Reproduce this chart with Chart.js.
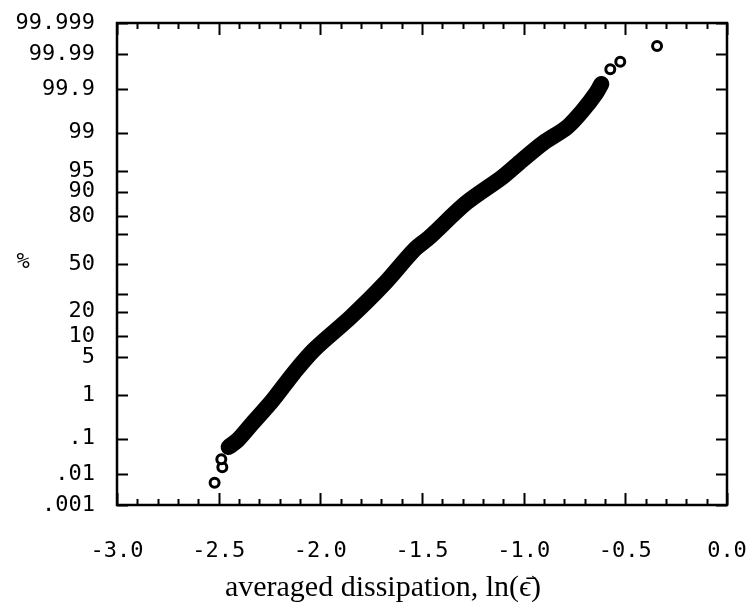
<!DOCTYPE html>
<html>
<head>
<meta charset="utf-8">
<script src="https://cdn.jsdelivr.net/npm/chart.js@4/dist/chart.umd.min.js"></script>
<style>
  html, body { margin: 0; padding: 0; background: #fff; }
  #wrap { width: 753px; height: 610px; }
</style>
</head>
<body>
<div id="wrap"><canvas id="chart" width="753" height="610"></canvas></div>
<script>
// dense band of points (read along the centre of the black band)
const bulkX   = [-2.451, -2.406, -2.333, -2.234, -2.131, -2.032, -1.850, -1.682, -1.539, -1.461, -1.283, -1.105, -1.007, -0.904, -0.786, -0.707, -0.643, -0.618];
const bulkPct = [0.060, 0.092, 0.245, 0.80, 2.68, 6.4, 17.4, 36.8, 59.8, 68.4, 86.0, 93.8, 96.7, 98.39, 99.23, 99.68, 99.877, 99.928];

// isolated open circles at both ends
const tailX   = [-2.520, -2.482, -2.487, -0.574, -0.525, -0.344];
const tailPct = [0.00542, 0.0160, 0.0273, 99.9715, 99.9829, 99.9943];

// probability axis ticks
const yTickPct    = [0.001, 0.01, 0.1, 1, 5, 10, 20, 30, 50, 70, 80, 90, 95, 99, 99.9, 99.99, 99.999];
const yTickLabels = ['.001', '.01', '.1', '1', '5', '10', '20', '', '50', '', '80', '90', '95', '99', '99.9', '99.99', '99.999'];

// inverse normal cdf (Acklam) -> probability paper
function probit(p) {
    const a = [-3.969683028665376e+01, 2.209460984245205e+02, -2.759285104469687e+02, 1.383577518672690e+02, -3.066479806614716e+01, 2.506628277459239e+00];
    const b = [-5.447609879822406e+01, 1.615858368580409e+02, -1.556989798598866e+02, 6.680131188771972e+01, -1.328068155288572e+01];
    const c = [-7.784894002430293e-03, -3.223964580411365e-01, -2.400758277161838e+00, -2.549732539343734e+00, 4.374664141464968e+00, 2.938163982698783e+00];
    const d = [7.784695709041462e-03, 3.224671290700398e-01, 2.445134137142996e+00, 3.754408661907416e+00];
    const pl = 0.02425;
    if (p < pl) {
        const q = Math.sqrt(-2 * Math.log(p));
        return (((((c[0]*q+c[1])*q+c[2])*q+c[3])*q+c[4])*q+c[5]) / ((((d[0]*q+d[1])*q+d[2])*q+d[3])*q+1);
    }
    if (p > 1 - pl) {
        const q = Math.sqrt(-2 * Math.log(1 - p));
        return -(((((c[0]*q+c[1])*q+c[2])*q+c[3])*q+c[4])*q+c[5]) / ((((d[0]*q+d[1])*q+d[2])*q+d[3])*q+1);
    }
    const q = p - 0.5, r = q * q;
    return (((((a[0]*r+a[1])*r+a[2])*r+a[3])*r+a[4])*r+a[5])*q / (((((b[0]*r+b[1])*r+b[2])*r+b[3])*r+b[4])*r+1);
}

const toPoints = (xs, ps) => xs.map((x, i) => ({ x, y: probit(ps[i] / 100) }));
const yMin = probit(yTickPct[0] / 100);
const yMax = probit(yTickPct[yTickPct.length - 1] / 100);

// frame, inward ticks and free text
const framePlugin = {
    id: 'frame',
    afterDraw(chart) {
        const ctx = chart.ctx;
        const { left, right, top, bottom } = chart.chartArea;
        const xs = chart.scales.x, ys = chart.scales.y;
        ctx.save();
        ctx.strokeStyle = '#000';
        ctx.lineWidth = 2;
        ctx.beginPath();
        for (let i = -30; i <= 0; i++) {
            const px = Math.round(xs.getPixelForValue(i / 10)) + 0.5;
            const len = (i % 5 === 0) ? 12 : 6;
            ctx.moveTo(px, bottom); ctx.lineTo(px, bottom - len);
            ctx.moveTo(px, top); ctx.lineTo(px, top + len);
        }
        yTickPct.forEach(p => {
            const py = Math.round(ys.getPixelForValue(probit(p / 100))) + 0.5;
            ctx.moveTo(left, py); ctx.lineTo(left + 11, py);
            ctx.moveTo(right, py); ctx.lineTo(right - 11, py);
        });
        ctx.stroke();
        ctx.lineWidth = 2.5;
        ctx.strokeRect(left, top, right - left, bottom - top);

        ctx.fillStyle = '#000';
        ctx.textAlign = 'center';
        ctx.textBaseline = 'middle';
        ctx.font = '22px "DejaVu Sans Mono"';
        ctx.fillText('%', 23, 262);
        ctx.textBaseline = 'alphabetic';
        ctx.font = '30px "Liberation Serif"';
        ctx.fillText('averaged dissipation, ln(\u03f5\u0304)', 383, 596);
        ctx.restore();
    }
};

Chart.defaults.font.family = '"DejaVu Sans Mono", monospace';
Chart.defaults.font.size = 22;
Chart.defaults.color = '#000';

new Chart(document.getElementById('chart'), {
    type: 'scatter',
    data: {
        datasets: [
            {
                label: 'tails',
                data: toPoints(tailX, tailPct),
                pointRadius: 4.5,
                pointBorderWidth: 3,
                pointBorderColor: '#000',
                pointBackgroundColor: '#fff'
            },
            {
                label: 'bulk',
                data: toPoints(bulkX, bulkPct),
                showLine: true,
                borderColor: '#000',
                borderWidth: 16,
                borderCapStyle: 'round',
                borderJoinStyle: 'round',
                tension: 0.3,
                pointRadius: 0
            }
        ]
    },
    options: {
        responsive: false,
        animation: false,
        layout: { padding: { left: 0, right: 26, top: 23, bottom: 0 } },
        plugins: { legend: { display: false }, tooltip: { enabled: false } },
        scales: {
            x: {
                type: 'linear',
                min: -3, max: 0,
                grid: { display: false, drawTicks: false },
                border: { display: false },
                ticks: { stepSize: 0.5, padding: 33, maxRotation: 0, callback: v => v.toFixed(1) },
                afterFit: s => { s.height = 105; s.paddingLeft = 0; s.paddingRight = 0; }
            },
            y: {
                type: 'linear',
                min: yMin, max: yMax,
                grid: { display: false, drawTicks: false },
                border: { display: false },
                ticks: { autoSkip: false, padding: 22, callback: (v, i) => yTickLabels[i] },
                afterBuildTicks: s => { s.ticks = yTickPct.map(p => ({ value: probit(p / 100) })); },
                afterFit: s => { s.width = 117; s.paddingTop = 0; s.paddingBottom = 0; }
            }
        }
    },
    plugins: [framePlugin]
});
</script>
</body>
</html>
